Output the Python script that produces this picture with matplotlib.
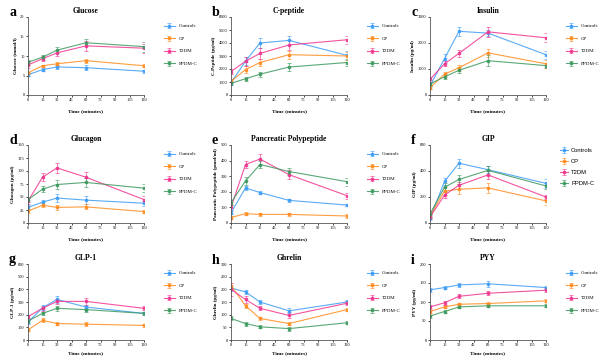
import matplotlib
matplotlib.use('agg')
import matplotlib.pyplot as plt

plt.rcParams['font.family'] = ['Liberation Serif', 'DejaVu Serif']

times = [0, 15, 30, 60, 120]
groups = ['Controls', 'CP', 'T2DM', 'PPDM-C']
colors = ['#3d9cf5', '#ff8c1f', '#f0368f', '#3c995e']

# panel a - glucose
glucose = [[5.2, 6.5, 7.2, 7.0, 6.1], [5.7, 7.5, 8.0, 8.8, 7.5],
           [7.7, 9.3, 10.8, 12.6, 12.0], [8.4, 9.7, 11.5, 13.4, 12.4]]
glucose_err = [[0.3, 0.3, 0.5, 0.7, 0.4], [0.3, 0.3, 0.4, 0.5, 0.4],
               [0.8, 0.6, 0.8, 1.2, 1.2], [0.7, 0.6, 0.7, 0.9, 1.3]]
# panel b - c-peptide
cpep = [[950, 2600, 4000, 4200, 3050], [1050, 1950, 2500, 3100, 3000],
        [1800, 2600, 3200, 3850, 4250], [900, 1250, 1600, 2150, 2500]]
cpep_err = [[150, 300, 350, 350, 350], [150, 250, 300, 300, 300],
            [200, 350, 400, 350, 300], [100, 150, 200, 300, 300]]
# panel c - insulin
insulin = [[350, 1400, 2450, 2380, 1550], [280, 800, 1050, 1620, 1200],
           [600, 1200, 1600, 2430, 2200], [430, 700, 950, 1320, 1130]]
insulin_err = [[100, 180, 180, 120, 150], [60, 100, 120, 160, 150],
               [100, 100, 130, 200, 170], [80, 100, 120, 200, 100]]
# panel d - glucagon
glucagon = [[30, 40, 48, 44, 38], [23, 34, 30, 31, 22],
            [42, 88, 106, 88, 45], [45, 65, 74, 78, 67]]
glucagon_err = [[4, 5, 7, 7, 5], [3, 4, 5, 5, 3],
                [6, 8, 10, 10, 6], [5, 6, 8, 8, 8]]
# panel e - pancreatic polypeptide
pp = [[65, 225, 195, 145, 115], [35, 60, 55, 55, 45],
      [100, 375, 410, 310, 175], [130, 270, 375, 330, 265]]
pp_err = [[10, 15, 12, 10, 8], [8, 10, 10, 10, 10],
          [15, 25, 35, 30, 20], [15, 25, 25, 25, 25]]
# panel f - GIP
gip = [[35, 320, 460, 410, 305], [55, 245, 260, 270, 170],
       [45, 215, 290, 370, 200], [70, 275, 335, 405, 285]]
gip_err = [[15, 30, 35, 25, 35], [15, 30, 40, 40, 30],
           [15, 25, 25, 30, 15], [20, 30, 35, 35, 25]]
# panel g - GLP-1
glp1 = [[140, 255, 320, 260, 210], [80, 155, 130, 125, 115],
        [185, 250, 305, 305, 250], [150, 210, 250, 240, 210]]
glp1_err = [[15, 20, 25, 20, 15], [10, 15, 15, 15, 15],
            [15, 20, 20, 25, 15], [15, 15, 20, 15, 15]]
# panel h - ghrelin
ghrelin = [[205, 190, 150, 115, 150], [215, 135, 85, 65, 120],
           [200, 160, 125, 97, 145], [85, 65, 52, 45, 68]]
ghrelin_err = [[10, 8, 8, 10, 8], [10, 8, 6, 6, 5],
               [25, 12, 8, 12, 8], [8, 8, 6, 8, 6]]
# panel i - PYY
pyy = [[132, 138, 145, 148, 138], [75, 87, 94, 96, 103],
       [87, 98, 115, 123, 131], [63, 75, 87, 90, 90]]
pyy_err = [[5, 5, 6, 8, 5], [4, 4, 4, 4, 4],
           [5, 5, 5, 5, 5], [4, 4, 4, 4, 4]]

panels = [
    ('a', 'Glucose', 'Glucose (mmol/l)', glucose, glucose_err, 20, 5),
    ('b', 'C-peptide', 'C-Peptide (pg/ml)', cpep, cpep_err, 6000, 1000),
    ('c', 'Insulin', 'Insulin (pg/ml)', insulin, insulin_err, 3000, 1000),
    ('d', 'Glucagon', 'Glucagon (pg/ml)', glucagon, glucagon_err, 150, 25),
    ('e', 'Pancreatic Polypeptide', 'Pancreatic Polypeptide (pmol/ml)', pp, pp_err, 500, 100),
    ('f', 'GIP', 'GIP (pg/ml)', gip, gip_err, 600, 200),
    ('g', 'GLP-1', 'GLP-1 (pg/ml)', glp1, glp1_err, 600, 100),
    ('h', 'Ghrelin', 'Ghrelin (pg/ml)', ghrelin, ghrelin_err, 300, 50),
    ('i', 'PYY', 'PYY (pg/ml)', pyy, pyy_err, 200, 50),
]

W, H = 600, 360
fig = plt.figure(figsize=(6, 3.6), dpi=100)

col_left = [28, 231, 430]
row_top = [17, 145, 264]
row_h = [78, 78, 76]
ax_w = 116

for k, (letter, title, ylab, vals, errs, ymax, ystep) in enumerate(panels):
    r, c = divmod(k, 3)
    x0, y0, ax_h = col_left[c], row_top[r], row_h[r]
    ax = fig.add_axes([x0 / W, 1 - (y0 + ax_h) / H, ax_w / W, ax_h / H])
    for g, name in enumerate(groups):
        ax.errorbar(times, vals[g], yerr=errs[g], color=colors[g], lw=0.8,
                    marker='s', ms=1.8, elinewidth=0.5, capsize=1.2,
                    capthick=0.5, label=name, alpha=0.85)
    ax.set_xlim(0, 120)
    ax.set_ylim(0, ymax)
    ax.set_xticks(range(0, 121, 15))
    ax.set_yticks(range(0, ymax + 1, ystep))
    ax.tick_params(labelsize=3.2, length=1.5, width=0.5, pad=1)
    for s in ['top', 'right']:
        ax.spines[s].set_visible(False)
    for s in ['left', 'bottom']:
        ax.spines[s].set_linewidth(0.6)
        ax.spines[s].set_color('#555555')
    ax.set_title(title, fontsize=5.5, fontweight='bold', pad=3)
    ax.set_ylabel(ylab, fontsize=3.6, fontweight='bold', labelpad=2)
    ax.set_xlabel('Time (minutes)', fontsize=3.8, fontweight='bold',
                  labelpad=5 if r < 2 else 2.5)
    if letter == 'f':
        ax.legend(loc='upper left', bbox_to_anchor=(1.1, 0.99), frameon=False,
                  prop={'family': 'Liberation Sans', 'size': 4.2},
                  handlelength=1.4, handletextpad=0.5, labelspacing=1.0,
                  borderaxespad=0)
    else:
        ax.legend(loc='upper left', bbox_to_anchor=(1.13, 0.97), frameon=False,
                  fontsize=3.6, handlelength=2.2, labelspacing=1.6)
    fig.text((x0 - 19) / W, 1 - (y0 - 4) / H, letter, fontsize=10,
             fontweight='bold', va='center', ha='left')

fig.savefig('out.png', dpi=100)
